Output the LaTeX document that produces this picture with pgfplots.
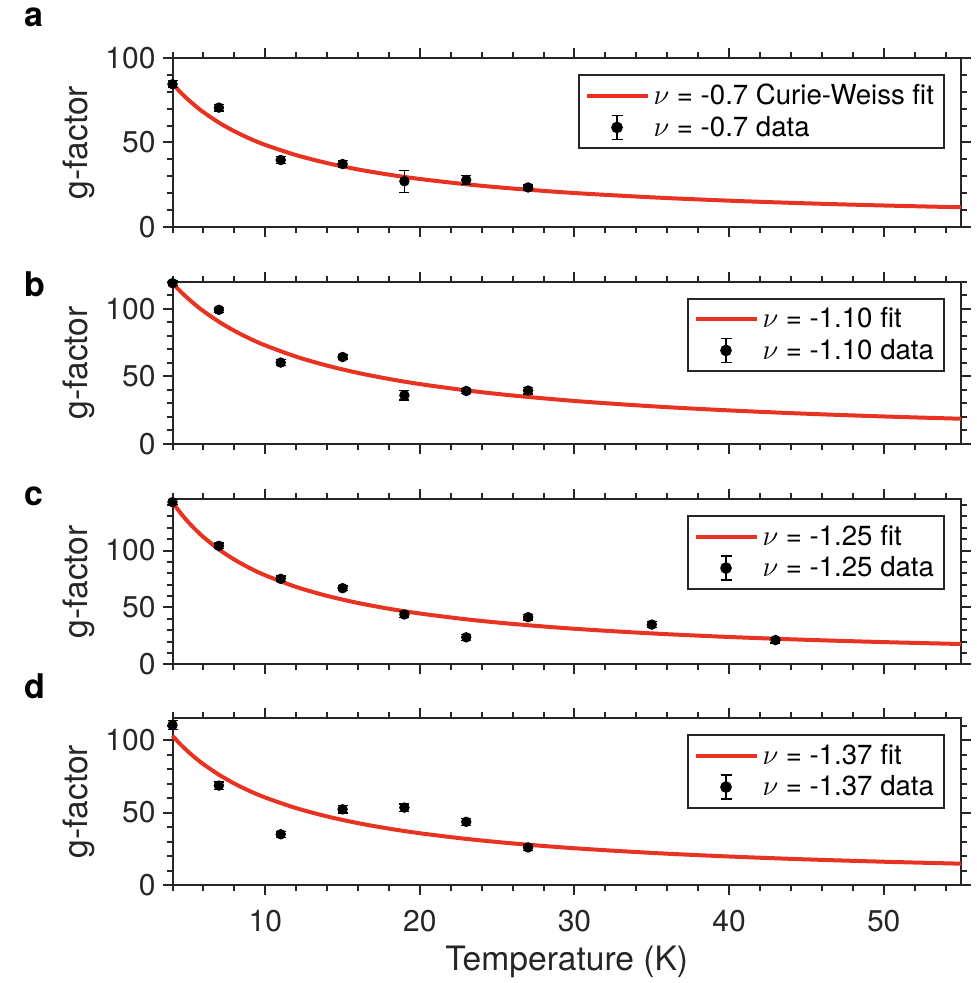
\documentclass[border=0pt]{standalone}
\usepackage{fontspec}
\setmainfont{TeX Gyre Heros}
\usepackage{pgfplots}
\pgfplotsset{compat=1.18}
\definecolor{fitred}{RGB}{232,51,35}
\definecolor{axgray}{RGB}{38,38,38}
\pgfplotsset{
  gpanel/.style={
    scale only axis, width=394.25pt,
    xmin=4, xmax=55, ymin=0,
    axis line style={line width=1pt, axgray},
    tick style={line width=1pt, axgray},
    tick align=outside, tick pos=both,
    major tick length=5pt, minor tick length=3pt,
    xtick={10,20,30,40,50},
    minor xtick={4,6,...,54},
    ytick={0,50,100},
    clip=false,
    /pgf/number format/assume math mode=true,
    tick label style={font=\fontsize{15}{18}\selectfont, text=axgray},
    xticklabel style={yshift=-4pt},
    label style={font=\fontsize{16.8}{20}\selectfont, text=axgray},
    ylabel={g-factor},
    ylabel style={at={(axis description cs:-0.1192,0.5)}, anchor=center},
    legend cell align=left,
    legend style={at={(rel axis cs:1,1)}, anchor=north east, xshift=-8pt, yshift=-8pt,
      draw=axgray, line width=1pt, font=\fontsize{13.8}{16}\selectfont,
      inner xsep=3pt, inner ysep=2.5pt, row sep=0pt},
    anchor=north west,
  },
  fitline/.style={fitred, line width=2pt, smooth, no marks,
    legend image code/.code={\draw[fitred, line width=2pt] (0pt,0pt) -- (30.5pt,0pt);}},
  datapts/.style={only marks, mark=*, mark size=2.4pt, black,
    legend image code/.code={
      \draw[black, line width=0.6pt] (15.25pt,-6pt) -- (15.25pt,6pt);
      \draw[black, line width=0.6pt] (12.5pt,-6pt) -- (18pt,-6pt);
      \draw[black, line width=0.6pt] (12.5pt,6pt) -- (18pt,6pt);
      \fill[black] (15.25pt,0pt) circle (2.4pt);},
    error bars/y dir=both, error bars/y explicit,
    error bars/error bar style={line width=0.6pt, black},
    error bars/error mark options={rotate=90, mark size=2.5pt, line width=0.6pt, black}},
}
\begin{document}
\begin{tikzpicture}
% panel a
\begin{axis}[gpanel, at={(86.25pt,-29.15pt)}, height=84.2pt, ymax=100,
  minor ytick={0,10,...,100}, xticklabels={}]
\addplot[fitline] coordinates {(4,85) (4.5,79.9) (5,75.56) (5.5,71.6) (6,68.0) (7,61.82) (8,56.67) (9,52.31) (10,48.57) (12,42.5) (14,37.78) (16,34.0) (18,30.91) (20,28.33) (23,25.19) (26,22.67) (30,20.0) (35,17.44) (40,15.45) (45,13.88) (50,12.59) (55,11.53)};
\addlegendentry{$\nu$ = -0.7 Curie-Weiss fit}
\addplot[datapts] coordinates {(4,84.6) +- (0,2) (7,70.7) +- (0,2) (11,39.6) +- (0,2) (15,37.2) +- (0,2) (19,27) +- (0,6.5) (23,27.7) +- (0,2.5) (27,23.3) +- (0,1.5)};
\addlegendentry{$\nu$ = -0.7 data}
\end{axis}
% panel b
\begin{axis}[gpanel, at={(86.25pt,-140.85pt)}, height=81.15pt, ymax=120,
  minor ytick={0,10,...,120}, xticklabels={}]
\addplot[fitline] coordinates {(4,118.95) (4.5,113.0) (5,107.62) (5.5,102.7) (6,98.26) (7,90.4) (8,83.70) (9,77.93) (10,72.90) (12,64.57) (14,57.95) (16,52.56) (18,48.09) (20,44.31) (23,39.65) (26,35.87) (30,31.83) (35,27.90) (40,24.84) (45,22.38) (50,20.36) (55,18.68)};
\addlegendentry{$\nu$ = -1.10 fit}
\addplot[datapts] coordinates {(4,118.9) +- (0,2) (7,99.2) +- (0,2) (11,60.2) +- (0,2) (15,64.3) +- (0,1.5) (19,36) +- (0,3.5) (23,39.2) +- (0,2) (27,39.5) +- (0,2.5)};
\addlegendentry{$\nu$ = -1.10 data}
\end{axis}
% panel c
\begin{axis}[gpanel, at={(86.25pt,-249.65pt)}, height=82.5pt, ymax=145,
  minor ytick={0,10,...,140}, xticklabels={}]
\addplot[fitline] coordinates {(4,142.47) (4.5,133.3) (5,125.30) (5.5,118.2) (6,111.83) (7,100.97) (8,92.04) (9,84.55) (10,78.20) (12,67.97) (14,60.12) (16,53.89) (18,48.83) (20,44.64) (23,39.54) (26,35.49) (30,31.23) (35,27.15) (40,24.02) (45,21.53) (50,19.51) (55,17.84)};
\addlegendentry{$\nu$ = -1.25 fit}
\addplot[datapts] coordinates {(4,142.5) +- (0,2) (7,104.1) +- (0,2.5) (11,75.1) +- (0,2.5) (15,66.9) +- (0,2) (19,43.8) +- (0,2.5) (23,23.7) +- (0,2.5) (27,41.4) +- (0,2.5) (35,34.9) +- (0,2.5) (43,21.3) +- (0,2.5)};
\addlegendentry{$\nu$ = -1.25 data}
\end{axis}
% panel d
\begin{axis}[gpanel, at={(86.25pt,-359.15pt)}, height=83.35pt, ymax=115,
  minor ytick={0,10,...,110},
  xlabel={Temperature (K)},
  xlabel style={at={(axis description cs:0.5,0)}, anchor=center, yshift=-38.5pt}]
\addplot[fitline] coordinates {(4,102.94) (4.5,97.2) (5,92.11) (5.5,87.5) (6,83.33) (7,76.09) (8,70.0) (9,64.81) (10,60.34) (12,53.03) (14,47.30) (16,42.68) (18,38.89) (20,35.71) (23,31.82) (26,28.69) (30,25.36) (35,22.15) (40,19.66) (45,17.68) (50,16.06) (55,14.71)};
\addlegendentry{$\nu$ = -1.37 fit}
\addplot[datapts] coordinates {(4,110.3) +- (0,3) (7,68.6) +- (0,2.5) (11,35) +- (0,2) (15,52.2) +- (0,2.5) (19,53.4) +- (0,2.5) (23,43.6) +- (0,2.5) (27,25.9) +- (0,2)};
\addlegendentry{$\nu$ = -1.37 data}
\end{axis}
% panel letters
\node[anchor=base west, inner sep=0pt, font=\fontsize{17}{19}\selectfont\bfseries] at (12pt,-13.5pt) {a};
\node[anchor=base west, inner sep=0pt, font=\fontsize{17}{19}\selectfont\bfseries] at (12pt,-148.3pt) {b};
\node[anchor=base west, inner sep=0pt, font=\fontsize{17}{19}\selectfont\bfseries] at (12pt,-252.5pt) {c};
\node[anchor=base west, inner sep=0pt, font=\fontsize{17}{19}\selectfont\bfseries] at (12pt,-349.2pt) {d};
\pgfresetboundingbox
\path[use as bounding box] (0pt,0pt) rectangle (488pt,-491.5pt);
\end{tikzpicture}
\end{document}
